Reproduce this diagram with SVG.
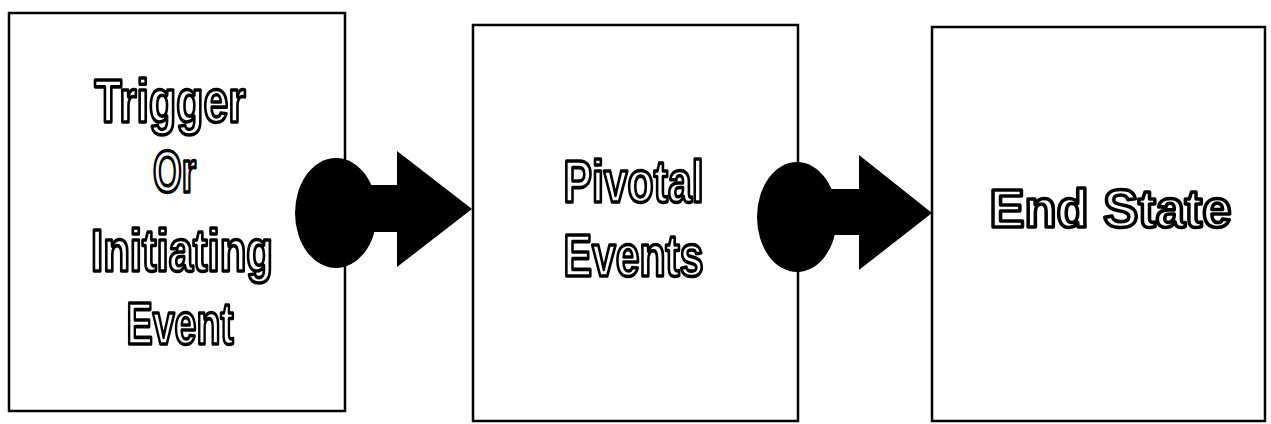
<svg xmlns="http://www.w3.org/2000/svg" width="1271" height="424" viewBox="0 0 1271 424">
<style>
.box{fill:#fff;stroke:#000;stroke-width:2.5}
.lbl{font-family:"Liberation Sans",Arial,sans-serif;font-weight:bold;font-size:59px;fill:#fff;stroke:#000;stroke-width:3.6;text-anchor:middle;stroke-linejoin:round}
.conn{fill:#000;stroke:none}
</style>
<rect width="1271" height="424" fill="#fff"/>
<g id="node-trigger">
<rect class="box" x="9" y="13" width="336" height="398"/>
<text class="lbl" x="170" y="122" style="font-size:61px" textLength="151" lengthAdjust="spacingAndGlyphs">Trigger</text>
<text class="lbl" x="174.5" y="192" textLength="43" lengthAdjust="spacingAndGlyphs">Or</text>
<text class="lbl" x="182" y="271" textLength="182" lengthAdjust="spacingAndGlyphs">Initiating</text>
<text class="lbl" x="180" y="344" textLength="107" lengthAdjust="spacingAndGlyphs">Event</text>
</g>
<g id="node-pivotal">
<rect class="box" x="473" y="25" width="325" height="396"/>
<text class="lbl" x="633.5" y="202" textLength="140" lengthAdjust="spacingAndGlyphs">Pivotal</text>
<text class="lbl" x="633.5" y="276" textLength="140" lengthAdjust="spacingAndGlyphs">Events</text>
</g>
<g id="node-end">
<rect class="box" x="932" y="27" width="333" height="394"/>
<text class="lbl" x="1110.5" y="227" style="font-size:53px" textLength="242" lengthAdjust="spacingAndGlyphs">End State</text>
</g>
<g id="connectors">
<g id="conn-1">
<ellipse class="conn" cx="336" cy="213" rx="41" ry="55"/>
<polygon class="conn" points="370,185 397,185 397,151 472,209 397,267 397,232 370,232"/>
</g>
<g id="conn-2">
<ellipse class="conn" cx="797" cy="217" rx="40" ry="55"/>
<polygon class="conn" points="830,189 859,189 859,155 932,213 859,270 859,235 830,235"/>
</g>
</g>
</svg>
